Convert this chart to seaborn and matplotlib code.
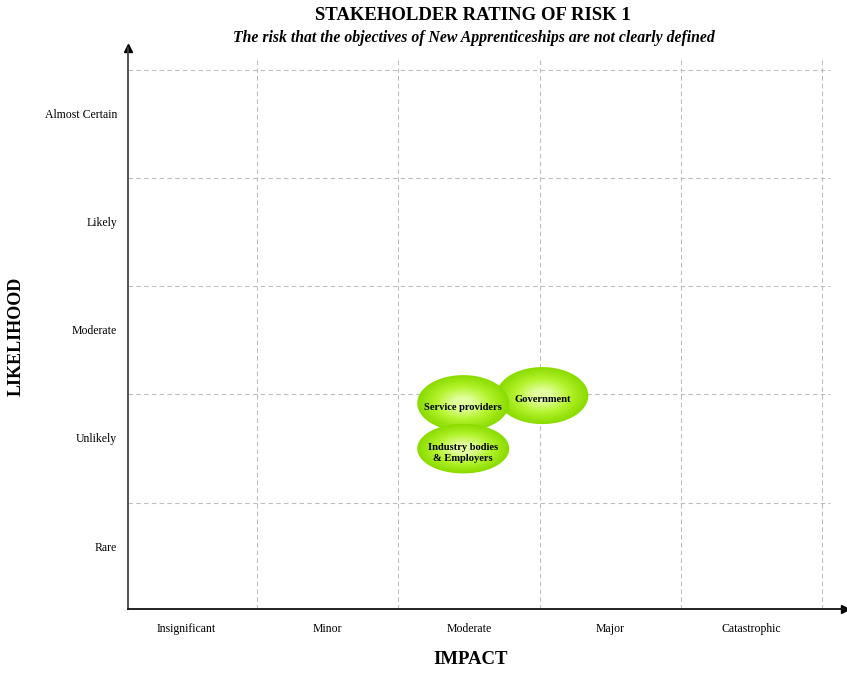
import numpy as np
import pandas as pd
import matplotlib
matplotlib.use("Agg")
import matplotlib.pyplot as plt
from matplotlib.path import Path
from matplotlib.colors import to_rgb
import seaborn as sns

# Rating scales
impact_levels = ["Insignificant", "Minor", "Moderate", "Major", "Catastrophic"]
likelihood_levels = ["Rare", "Unlikely", "Moderate", "Likely", "Almost Certain"]

# Average stakeholder ratings (impact, likelihood)
stakeholders = ["Government", "Service providers", "Industry bodies\n& Employers"]
impact_score = [3.02, 2.46, 2.46]
likelihood_score = [1.99, 1.92, 1.50]

df = pd.DataFrame({"stakeholder": stakeholders,
                   "impact": impact_score,
                   "likelihood": likelihood_score})

sns.set_theme(style="white")
plt.rcParams["font.family"] = ["Liberation Serif", "DejaVu Serif"]
plt.rcParams["text.color"] = "black"

W, H = 847, 674
fig = plt.figure(figsize=(W / 100, H / 100), dpi=100)
ax_left, ax_right, ax_top, ax_bot = 128, 845, 48, 609
ax = fig.add_axes([ax_left / W, 1 - ax_bot / H,
                   (ax_right - ax_left) / W, (ax_bot - ax_top) / H])

# data <-> pixel mapping of the grid
x0_px, x_step = 115.75, 141.25
y0_px, y_step = 611.0, 108.25
ax.set_xlim((ax_left - x0_px) / x_step, (ax_right - x0_px) / x_step)
ax.set_ylim((y0_px - ax_bot) / y_step, (y0_px - ax_top) / y_step)

# dashed grid
grid_kw = dict(color="#bdbdbd", linestyle=(0, (4, 3)), linewidth=0.8, zorder=0)
ax.vlines(np.arange(1, 6), ax.get_ylim()[0], 5.1, **grid_kw)
ax.hlines(np.arange(1, 6), ax.get_xlim()[0], 5.06, **grid_kw)

# ellipse-shaped markers
def ellipse_marker(aspect):
    t = np.linspace(0, 2 * np.pi, 121)
    return Path(np.column_stack([np.cos(t), aspect * np.sin(t)]), closed=True)

aspects = [0.62, 0.61, 0.54]
width_pt = 92 / 100 * 72
edge_col = np.array(to_rgb("#8cdc00"))
mid_col = np.array(to_rgb("#b4f32e"))
center_col = np.array(to_rgb("#e2ffa0"))

n_layers = 14
for i, row in df.iterrows():
    mk = ellipse_marker(aspects[i])
    one = df.iloc[[i]]
    for k in range(n_layers):
        f = k / (n_layers - 1)
        scale = 1.0 - 0.78 * f
        if f < 0.5:
            c = edge_col + (mid_col - edge_col) * (f / 0.5)
        else:
            c = mid_col + (center_col - mid_col) * ((f - 0.5) / 0.5)
        sns.scatterplot(data=one, x="impact", y="likelihood", ax=ax,
                        marker=mk, s=(width_pt * scale) ** 2,
                        color=tuple(c), edgecolor="none", linewidth=0,
                        legend=False, zorder=3 + i * 0.1 + k * 0.001)
    ax.text(row["impact"], row["likelihood"] - 0.04, row["stakeholder"],
            ha="center", va="center", fontsize=7.6, fontweight="bold",
            linespacing=1.2, color="black", zorder=4 + i * 0.1)

# axes with arrow heads
for side in ["top", "right"]:
    ax.spines[side].set_visible(False)
ax.spines["left"].set_color("#444444")
ax.spines["bottom"].set_color("#111111")
ax.spines["left"].set_linewidth(1.3)
ax.spines["bottom"].set_linewidth(1.3)
ax.plot(1, 0, ">", color="black", markersize=6, transform=ax.transAxes, clip_on=False)
ax.plot(0, 1, "^", color="black", markersize=6, transform=ax.transAxes, clip_on=False)

ax.set_xticks(np.arange(len(impact_levels)) + 0.5, impact_levels)
ax.set_yticks(np.arange(len(likelihood_levels)) + 0.6, likelihood_levels)
ax.tick_params(axis="both", length=0, labelsize=8.5, colors="black")
ax.tick_params(axis="x", pad=10)
ax.tick_params(axis="y", pad=8)
ax.set_xlabel("")
ax.set_ylabel("")

fig.text(471 / W, 1 - 660 / H, "IMPACT", ha="center", va="center",
         fontsize=13.5, fontweight="bold")
fig.text(16 / W, 1 - 336 / H, "LIKELIHOOD", ha="center", va="center",
         rotation=90, fontsize=13, fontweight="bold")
fig.text(473 / W, 1 - 15 / H, "STAKEHOLDER RATING OF RISK 1", ha="center",
         va="center", fontsize=13.5, fontweight="bold")
fig.text(474 / W, 1 - 38 / H,
         "The risk that the objectives of New Apprenticeships are not clearly defined",
         ha="center", va="center", fontsize=11.3, fontweight="bold", style="italic")

fig.savefig("out.png", dpi=100, facecolor="white")
